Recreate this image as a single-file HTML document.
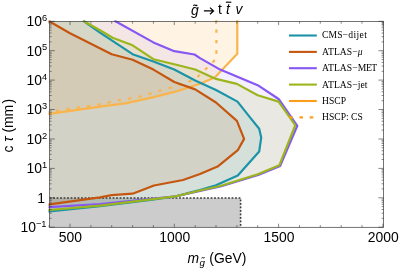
<!DOCTYPE html><html><head><meta charset="utf-8"><style>html,body{margin:0;padding:0;background:#fff}svg{display:block;will-change:transform}</style></head><body><svg width="399" height="270" viewBox="0 0 399 270">
<rect width="399" height="270" fill="#fff"/>
<defs><clipPath id="c"><rect x="49.6" y="21.5" width="334.0" height="205.8"/></clipPath></defs>
<defs><clipPath id="c2"><rect x="48.5" y="20.2" width="336.2" height="208.4"/></clipPath></defs>
<g clip-path="url(#c)">
<rect x="49.6" y="198.0" width="191.0" height="29.3" fill="#cccccc"/>
<polygon points="47.5,114.2 49.6,113.9 100.0,106.7 125.2,103.3 150.4,97.9 175.6,91.6 200.0,83.7 215.1,77.3 237.3,53.7 237.3,21.5 237.3,19.5 49.6,21.5" fill="#ffa014" fill-opacity="0.112"/>
<polygon points="83.2,20.7 84.4,21.5 100.0,32.7 132.6,54.2 153.4,61.5 174.3,69.5 195.2,80.5 216.0,90.0 237.5,101.6 250.4,117.9 259.2,128.8 261.2,137.6 259.2,151.5 237.8,175.4 216.0,185.3 200.0,190.0 190.0,192.6 175.6,196.5 150.4,200.0 100.0,206.2 49.6,211.3 49.6,21.5" fill="#1b93a8" fill-opacity="0.100"/>
<polygon points="48.2,20.8 49.6,21.5 70.0,33.2 90.9,43.8 111.7,54.2 132.6,59.7 153.4,69.6 174.3,82.0 195.2,89.4 216.0,102.5 236.9,120.8 244.1,138.9 237.8,150.2 217.6,166.6 200.0,174.0 183.0,180.0 154.0,185.5 132.6,193.7 111.7,195.1 100.0,197.4 49.6,204.4" fill="#c5560f" fill-opacity="0.100"/>
<polygon points="114.4,20.6 115.9,21.5 153.4,42.4 174.3,51.2 194.5,54.5 200.0,58.1 218.9,68.9 257.7,85.2 278.6,99.0 297.3,125.8 280.2,165.9 258.2,174.9 220.4,186.5 200.0,190.9 175.6,196.4 100.0,204.0 49.6,207.2 49.6,21.5" fill="#8657f3" fill-opacity="0.090"/>
<polygon points="83.2,20.7 84.4,21.5 100.0,30.2 112.6,37.8 132.6,45.3 153.4,59.2 174.3,64.2 195.2,69.5 216.0,78.9 236.9,83.9 257.7,95.3 278.6,101.6 294.5,124.2 295.2,125.5 279.3,165.3 257.9,174.2 220.2,186.0 200.0,190.5 175.6,196.4 100.0,205.7 49.6,210.0 49.6,21.5" fill="#9bb51c" fill-opacity="0.120"/>
<polyline points="49.6,198.0 240.6,198.0 240.6,227.3" fill="none" stroke="#383838" stroke-width="1.6" stroke-dasharray="1.8 1.7"/>
</g><g clip-path="url(#c2)">
<polyline points="47.5,114.2 49.6,113.9 100.0,106.7 125.2,103.3 150.4,97.9 175.6,91.6 200.0,83.7 215.1,77.3 237.3,53.7 237.3,21.5 237.3,19.5 237.3,17.0" fill="none" stroke="#fab44c" stroke-width="2.2" stroke-linejoin="round" />
<polyline points="216.4,19.0 216.4,58.6 195.2,79.3 180.6,84.4 170.5,87.7 150.4,93.5 140.3,96.5 120.2,100.0 100.0,104.3 59.2,110.5 49.6,111.8 47.1,112.1" fill="none" stroke="#fab44c" stroke-width="2.2" stroke-linejoin="round" stroke-dasharray="3.3 7.15"/>
<polyline points="83.2,20.7 84.4,21.5 100.0,32.7 132.6,54.2 153.4,61.5 174.3,69.5 195.2,80.5 216.0,90.0 237.5,101.6 250.4,117.9 259.2,128.8 261.2,137.6 259.2,151.5 237.8,175.4 216.0,185.3 200.0,190.0 190.0,192.6 175.6,196.5 150.4,200.0 100.0,206.2 49.6,211.3 47.1,211.6" fill="none" stroke="#1b93a8" stroke-width="2.2" stroke-linejoin="round" />
<polyline points="48.2,20.8 49.6,21.5 70.0,33.2 90.9,43.8 111.7,54.2 132.6,59.7 153.4,69.6 174.3,82.0 195.2,89.4 216.0,102.5 236.9,120.8 244.1,138.9 237.8,150.2 217.6,166.6 200.0,174.0 183.0,180.0 154.0,185.5 132.6,193.7 111.7,195.1 100.0,197.4 49.6,204.4 47.1,204.7" fill="none" stroke="#c5560f" stroke-width="2.2" stroke-linejoin="round" />
<polyline points="114.4,20.6 115.9,21.5 153.4,42.4 174.3,51.2 194.5,54.5 200.0,58.1 218.9,68.9 257.7,85.2 278.6,99.0 297.3,125.8 280.2,165.9 258.2,174.9 220.4,186.5 200.0,190.9 175.6,196.4 100.0,204.0 49.6,207.2 47.1,207.4" fill="none" stroke="#8657f3" stroke-width="2.2" stroke-linejoin="round" />
<polyline points="83.2,20.7 84.4,21.5 100.0,30.2 112.6,37.8 132.6,45.3 153.4,59.2 174.3,64.2 195.2,69.5 216.0,78.9 236.9,83.9 257.7,95.3 278.6,101.6 294.5,124.2 295.2,125.5 279.3,165.3 257.9,174.2 220.2,186.0 200.0,190.5 175.6,196.4 100.0,205.7 49.6,210.0 47.1,210.2" fill="none" stroke="#9bb51c" stroke-width="2.2" stroke-linejoin="round" />
</g>
<rect x="49.6" y="21.5" width="334.0" height="205.8" fill="none" stroke="#383838" stroke-width="0.7"/>
<path d="M49.1 227.3v-2.2M49.1 21.5v2.2M70.0 227.3v-3.6M70.0 21.5v3.6M90.9 227.3v-2.2M90.9 21.5v2.2M111.7 227.3v-2.2M111.7 21.5v2.2M132.6 227.3v-2.2M132.6 21.5v2.2M153.4 227.3v-2.2M153.4 21.5v2.2M174.3 227.3v-3.6M174.3 21.5v3.6M195.2 227.3v-2.2M195.2 21.5v2.2M216.0 227.3v-2.2M216.0 21.5v2.2M236.9 227.3v-2.2M236.9 21.5v2.2M257.7 227.3v-2.2M257.7 21.5v2.2M278.6 227.3v-3.6M278.6 21.5v3.6M299.5 227.3v-2.2M299.5 21.5v2.2M320.3 227.3v-2.2M320.3 21.5v2.2M341.2 227.3v-2.2M341.2 21.5v2.2M362.0 227.3v-2.2M362.0 21.5v2.2M382.9 227.3v-3.6M382.9 21.5v3.6M49.6 227.2h5.2M383.6 227.2h-5.2M49.6 218.3h2.0M383.6 218.3h-2.0M49.6 213.2h2.0M383.6 213.2h-2.0M49.6 209.5h2.0M383.6 209.5h-2.0M49.6 206.6h2.0M383.6 206.6h-2.0M49.6 204.3h2.0M383.6 204.3h-2.0M49.6 202.3h2.0M383.6 202.3h-2.0M49.6 200.6h2.0M383.6 200.6h-2.0M49.6 199.1h2.0M383.6 199.1h-2.0M49.6 197.8h5.2M383.6 197.8h-5.2M49.6 188.9h2.0M383.6 188.9h-2.0M49.6 183.8h2.0M383.6 183.8h-2.0M49.6 180.1h2.0M383.6 180.1h-2.0M49.6 177.2h2.0M383.6 177.2h-2.0M49.6 174.9h2.0M383.6 174.9h-2.0M49.6 172.9h2.0M383.6 172.9h-2.0M49.6 171.2h2.0M383.6 171.2h-2.0M49.6 169.7h2.0M383.6 169.7h-2.0M49.6 168.4h5.2M383.6 168.4h-5.2M49.6 159.5h2.0M383.6 159.5h-2.0M49.6 154.3h2.0M383.6 154.3h-2.0M49.6 150.7h2.0M383.6 150.7h-2.0M49.6 147.8h2.0M383.6 147.8h-2.0M49.6 145.5h2.0M383.6 145.5h-2.0M49.6 143.5h2.0M383.6 143.5h-2.0M49.6 141.8h2.0M383.6 141.8h-2.0M49.6 140.3h2.0M383.6 140.3h-2.0M49.6 139.0h5.2M383.6 139.0h-5.2M49.6 130.1h2.0M383.6 130.1h-2.0M49.6 124.9h2.0M383.6 124.9h-2.0M49.6 121.2h2.0M383.6 121.2h-2.0M49.6 118.4h2.0M383.6 118.4h-2.0M49.6 116.1h2.0M383.6 116.1h-2.0M49.6 114.1h2.0M383.6 114.1h-2.0M49.6 112.4h2.0M383.6 112.4h-2.0M49.6 110.9h2.0M383.6 110.9h-2.0M49.6 109.5h5.2M383.6 109.5h-5.2M49.6 100.7h2.0M383.6 100.7h-2.0M49.6 95.5h2.0M383.6 95.5h-2.0M49.6 91.8h2.0M383.6 91.8h-2.0M49.6 89.0h2.0M383.6 89.0h-2.0M49.6 86.7h2.0M383.6 86.7h-2.0M49.6 84.7h2.0M383.6 84.7h-2.0M49.6 83.0h2.0M383.6 83.0h-2.0M49.6 81.5h2.0M383.6 81.5h-2.0M49.6 80.1h5.2M383.6 80.1h-5.2M49.6 71.3h2.0M383.6 71.3h-2.0M49.6 66.1h2.0M383.6 66.1h-2.0M49.6 62.4h2.0M383.6 62.4h-2.0M49.6 59.6h2.0M383.6 59.6h-2.0M49.6 57.2h2.0M383.6 57.2h-2.0M49.6 55.3h2.0M383.6 55.3h-2.0M49.6 53.6h2.0M383.6 53.6h-2.0M49.6 52.1h2.0M383.6 52.1h-2.0M49.6 50.7h5.2M383.6 50.7h-5.2M49.6 41.9h2.0M383.6 41.9h-2.0M49.6 36.7h2.0M383.6 36.7h-2.0M49.6 33.0h2.0M383.6 33.0h-2.0M49.6 30.2h2.0M383.6 30.2h-2.0M49.6 27.8h2.0M383.6 27.8h-2.0M49.6 25.9h2.0M383.6 25.9h-2.0M49.6 24.2h2.0M383.6 24.2h-2.0M49.6 22.6h2.0M383.6 22.6h-2.0M49.6 21.3h5.2M383.6 21.3h-5.2" stroke="#383838" stroke-width="0.6" fill="none"/>
<g font-family="Liberation Sans, sans-serif" fill="#000" font-size="13.9">
<text x="70.4" y="241.9" text-anchor="middle">500</text>
<text x="174.7" y="241.9" text-anchor="middle">1000</text>
<text x="279.0" y="241.9" text-anchor="middle">1500</text>
<text x="383.3" y="241.9" text-anchor="middle">2000</text>
<text x="46.5" y="232.1" text-anchor="end">10<tspan font-size="9.3" dy="-5.4">−1</tspan></text>
<text x="44.9" y="202.6" text-anchor="end">1</text>
<text x="47.2" y="173.3" text-anchor="end">10<tspan font-size="9.3" dy="-5.4">1</tspan></text>
<text x="47.2" y="143.9" text-anchor="end">10<tspan font-size="9.3" dy="-5.4">2</tspan></text>
<text x="47.2" y="114.4" text-anchor="end">10<tspan font-size="9.3" dy="-5.4">3</tspan></text>
<text x="47.2" y="85.0" text-anchor="end">10<tspan font-size="9.3" dy="-5.4">4</tspan></text>
<text x="47.2" y="55.6" text-anchor="end">10<tspan font-size="9.3" dy="-5.4">5</tspan></text>
<text x="47.2" y="26.2" text-anchor="end">10<tspan font-size="9.3" dy="-5.4">6</tspan></text>
<text x="187.6" y="262.6" font-style="italic">m</text>
<text x="199.6" y="266.2" font-style="italic" font-size="9.8">g</text>
<path d="M201.5 258.1q0.8 -0.9 1.6 -0.3t1.6 -0.3" stroke="#000" stroke-width="0.95" fill="none"/>
<text x="209.3" y="262.6">(GeV)</text>
<text transform="translate(13.0,125.7) rotate(-90)" text-anchor="middle">c <tspan font-style="italic">τ</tspan> (mm<tspan dx="1.3">)</tspan></text>
<text x="191.0" y="14.6" font-style="italic">g</text>
<path d="M193.3 5.5q1.0 -0.9 2.0 -0.2t2.0 -0.3" stroke="#000" stroke-width="1.2" fill="none"/>
<path d="M203.9 10.9H213.4M210.0 7.6L213.5 10.9L210.0 14.2" stroke="#000" stroke-width="1.25" fill="none"/>
<text x="218.0" y="14.4">t</text>
<text x="226.0" y="14.4" font-style="italic">t</text>
<path d="M225.9 2.2H231.3" stroke="#000" stroke-width="1.15" fill="none"/>
<text x="235.6" y="14.4" font-style="italic">v</text>
</g>
<g font-family="Liberation Serif, serif" fill="#000" font-size="9.6">
<path d="M289 35.5H316.8" stroke="#1b93a8" stroke-width="2.1"/>
<text x="322" y="38.4"><tspan letter-spacing="0.1">CMS</tspan>−<tspan letter-spacing="0.4" dx="0.3">dijet</tspan></text>
<path d="M289 51.9H316.8" stroke="#c5560f" stroke-width="2.1"/>
<text x="322" y="54.8"><tspan letter-spacing="0.08">ATLAS</tspan>−<tspan font-style="italic" dx="0">μ</tspan></text>
<path d="M289 68.2H316.8" stroke="#8657f3" stroke-width="2.1"/>
<text x="322" y="71.1"><tspan letter-spacing="0.08">ATLAS</tspan>−<tspan letter-spacing="-0.45" dx="0.2">MET</tspan></text>
<path d="M289 84.6H316.8" stroke="#9bb51c" stroke-width="2.1"/>
<text x="322" y="87.5"><tspan letter-spacing="0.08">ATLAS</tspan>−<tspan dx="0.1">jet</tspan></text>
<path d="M289 101.0H316.8" stroke="#fc9e1b" stroke-width="2.1"/>
<text x="322" y="103.9">HSCP</text>
<path d="M289 117.4H316.8" stroke="#fc9e1b" stroke-width="2.1" stroke-dasharray="3.5 6.7" stroke-dashoffset="-0.3"/>
<text x="322" y="120.3">HSCP: CS</text>
</g>
</svg></body></html>
